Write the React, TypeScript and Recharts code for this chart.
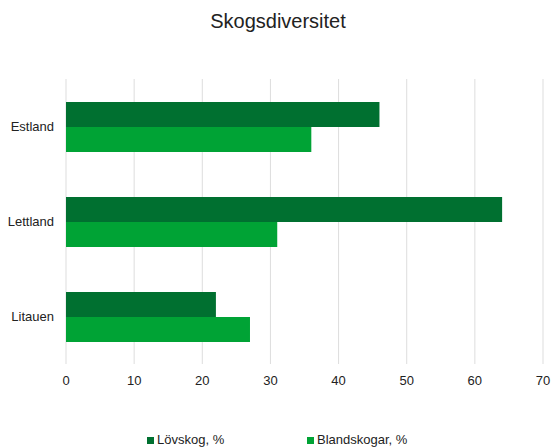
import React from "react";
import { BarChart, Bar, XAxis, YAxis, CartesianGrid, Legend } from "recharts";

const categories = ["Estland", "Lettland", "Litauen"];
const lovskog = [46, 64, 22];
const blandskogar = [36, 31, 27];
const xTicks = [0, 10, 20, 30, 40, 50, 60, 70];
const seriesNames = ["Lövskog, %", "Blandskogar, %"];
const title = "Skogsdiversitet";

const DARK = "#007030";
const LIGHT = "#00a335";
const FONT = "Arial, 'Liberation Sans', sans-serif";

const data = categories.map((c, i) => ({
  name: c,
  lov: lovskog[i],
  bland: blandskogar[i],
}));

const LegendContent = () => {
  const items = [
    { label: seriesNames[0], color: DARK, left: 147 },
    { label: seriesNames[1], color: LIGHT, left: 307 },
  ];
  return (
    <div style={{ position: "relative", width: 551, height: 16 }}>
      {items.map((it) => (
        <div
          key={it.label}
          style={{
            position: "absolute",
            left: it.left,
            top: 0,
            display: "flex",
            alignItems: "center",
            fontFamily: FONT,
            fontSize: 13,
            color: "#222",
            whiteSpace: "nowrap",
            lineHeight: "16px",
          }}
        >
          <span
            style={{
              display: "inline-block",
              width: 7,
              height: 7,
              background: it.color,
              marginRight: 3,
            }}
          />
          {it.label}
        </div>
      ))}
    </div>
  );
};

export default function App() {
  return (
    <div style={{ position: "absolute", left: 0, top: 0, width: 551, height: 448, background: "#fff" }}>
      <div
        style={{
          position: "absolute",
          left: 0,
          top: 9,
          width: 556,
          textAlign: "center",
          fontFamily: FONT,
          fontSize: 20,
          color: "#222",
          lineHeight: "24px",
        }}
      >
        {title}
      </div>
      <BarChart
        width={551}
        height={448}
        data={data}
        layout="vertical"
        margin={{ top: 79, right: 8, bottom: 54, left: 0 }}
        barSize={25}
        barGap={0}
      >
        <CartesianGrid horizontal={false} vertical={true} stroke="#dddddd" strokeWidth={1} />
        <XAxis
          type="number"
          domain={[0, 70]}
          ticks={xTicks}
          axisLine={false}
          tickLine={false}
          tickSize={0}
          tickMargin={12}
          height={30}
          tick={{ fontFamily: FONT, fontSize: 13, fill: "#222" }}
          interval={0}
        />
        <YAxis
          type="category"
          dataKey="name"
          axisLine={false}
          tickLine={false}
          tickSize={0}
          tickMargin={12}
          width={66}
          tick={{ fontFamily: FONT, fontSize: 13, fill: "#222" }}
        />
        <Legend
          content={<LegendContent />}
          layout="horizontal"
          verticalAlign="middle"
          align="center"
          wrapperStyle={{ position: "absolute", left: 0, top: 432, width: 551, height: 16 }}
        />
        <Bar dataKey="lov" name={seriesNames[0]} fill={DARK} isAnimationActive={false} />
        <Bar dataKey="bland" name={seriesNames[1]} fill={LIGHT} isAnimationActive={false} />
      </BarChart>
    </div>
  );
}
